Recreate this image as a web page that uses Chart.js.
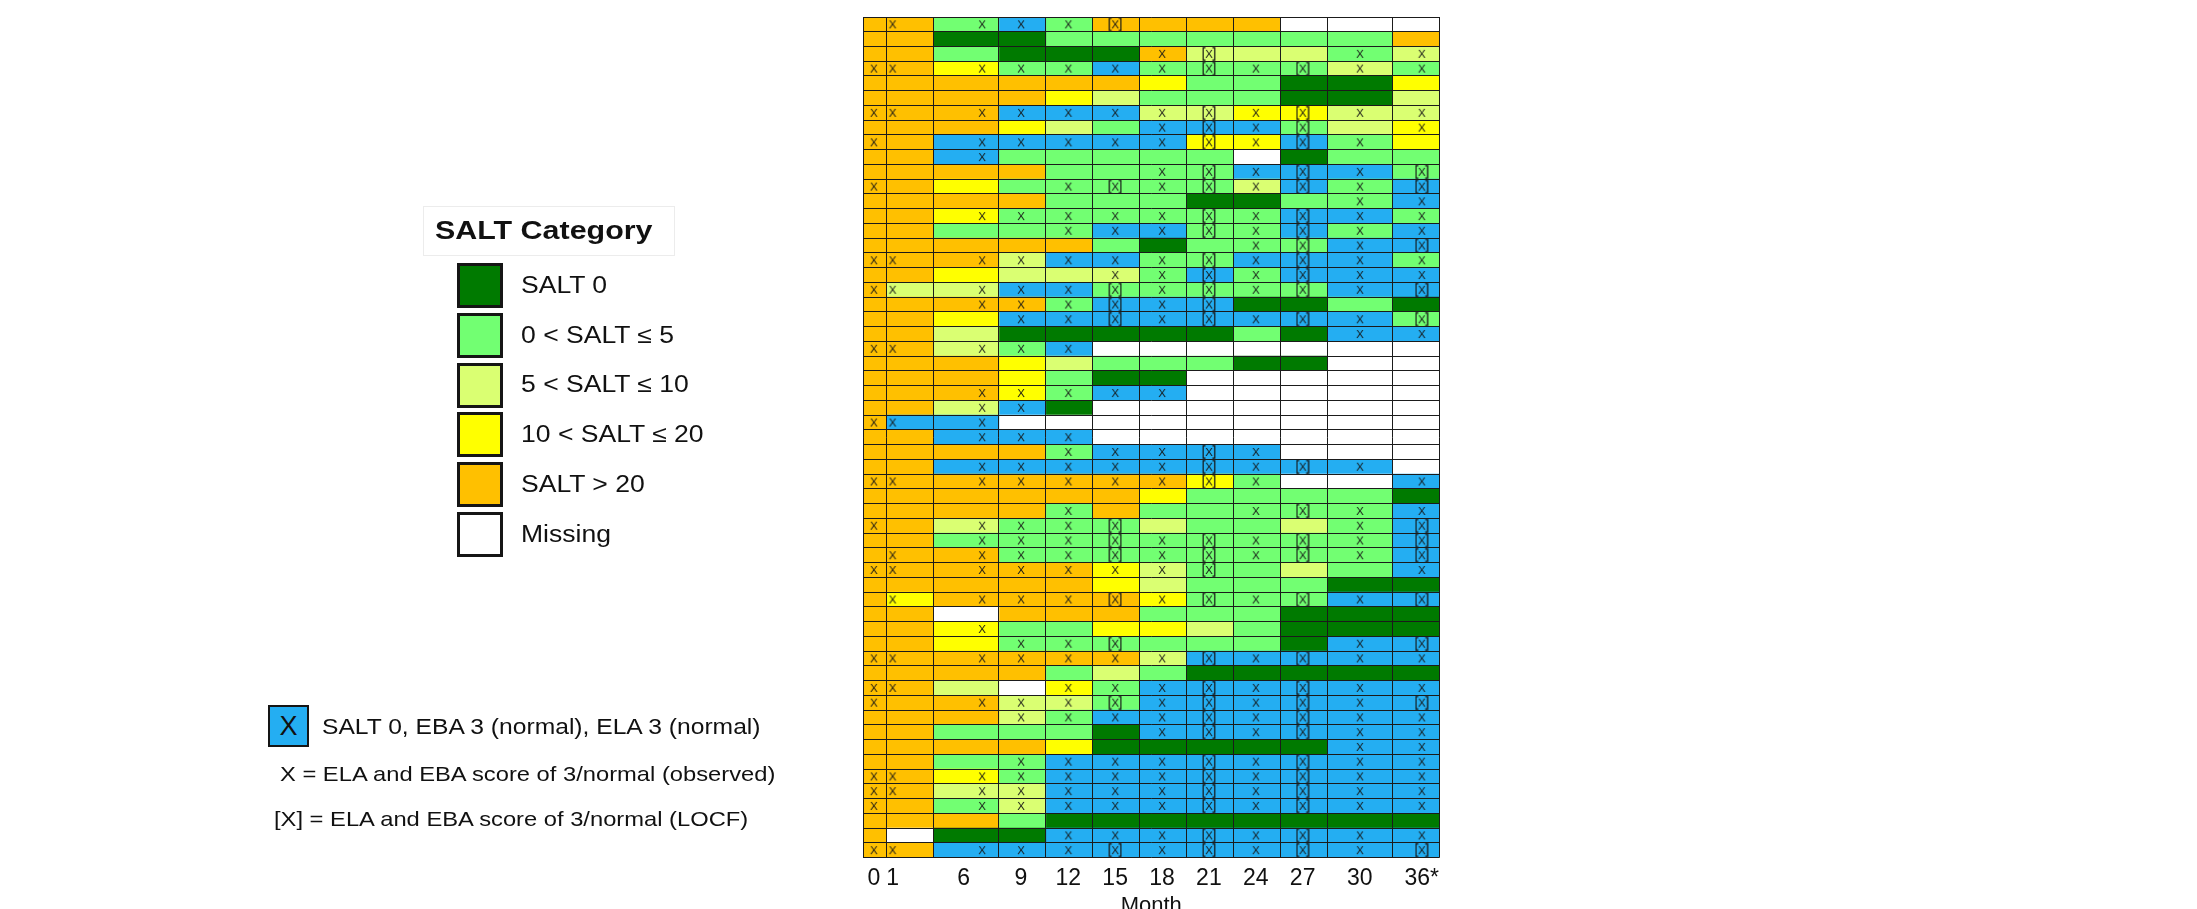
<!DOCTYPE html>
<html><head><meta charset="utf-8">
<script src="https://cdn.jsdelivr.net/npm/chart.js@4.4.1/dist/chart.umd.min.js"></script>
<style>
html,body{margin:0;padding:0;background:#fff;overflow:hidden;}
#wrap{position:relative;width:2197px;height:909px;overflow:hidden;font-family:"Liberation Sans",Arial,sans-serif;color:#111;}
#c{position:absolute;left:0;top:0;}
.txt{position:absolute;white-space:nowrap;line-height:1;transform:scaleX(1.13);transform-origin:0 50%;}
.sq{position:absolute;box-sizing:border-box;border:3px solid #151515;}
</style></head><body>
<div id="wrap">
<canvas id="c" width="2197" height="940" style="width:2197px;height:940px"></canvas>
</div>
<script>
// ---------- data ----------
const months = ['0','1','6','9','12','15','18','21','24','27','30','36*'];
const patients = ['P01','P02','P03','P04','P05','P06','P07','P08','P09','P10','P11','P12','P13','P14','P15','P16','P17','P18','P19','P20',
'P21','P22','P23','P24','P25','P26','P27','P28','P29','P30','P31','P32','P33','P34','P35','P36','P37','P38','P39','P40',
'P41','P42','P43','P44','P45','P46','P47','P48','P49','P50','P51','P52','P53','P54','P55','P56','P57'];
// SALT category per patient per month: D=SALT 0, G=0<SALT<=5, P=5<SALT<=10, Y=10<SALT<=20, O=SALT>20, W=missing, B=SALT 0 + EBA 3 + ELA 3
const saltCategory = [
"OOGBGOOOOWWW","OODDGGGGGGGO","OOGDDDOPPPGP","OOYGGBGGGGPG","OOOOOOYGGDDY","OOOOYPGGGDDP",
"OOOBBBPPYYPP","OOOYPGBBBGPY","OOBBBBBYYBGY","OOBGGGGGWDGG","OOOOGGGGBBBG","OOYGGGGGPBGB",
"OOOOGGGDDGGB","OOYGGGGGGBBG","OOGGGBBGGBGB","OOOOOGDGGGBB","OOOPBBGGBBBG","OOYPPPGBGBBB",
"OPPBBGGGGGBB","OOOOGBBBDDGD","OOYBBBBBBBBG","OOPDDDDDGDBB","OOPGBWWWWWWW","OOOYPGGGDDWW",
"OOOYGDDWWWWW","OOOYGBBWWWWW","OOPBDWWWWWWW","OBBWWWWWWWWW","OOBBBWWWWWWW","OOOOGBBBBWWW",
"OOBBBBBBBBBW","OOOOOOOYGWWB","OOOOOOYGGGGD","OOOOGOGGGGGB","OOPGGGPGGPGB","OOGGGGGGGGGB",
"OOOGGGGGGGGB","OOOOOYPGGPGB","OOOOOYPGGGDD","OYOOOOYGGGBB","OOWOOOGGGDDD","OOYGGYYPGDDD",
"OOYGGGGGGDBB","OOOOOOPBBBBB","OOOOGPGDDDDD","OOPWYGBBBBBB","OOOPPGBBBBBB","OOOPGBBBBBBB",
"OOGGGDBBBBBB","OOOOYDDDDDBB","OOGGBBBBBBBB","OOYGBBBBBBBB","OOPPBBBBBBBB","OOGPBBBBBBBB",
"OOOGDDDDDDDD","OWDDBBBBBBBB","OOBBBBBBBBBB"];
// ELA/EBA normal marks: x = observed, L = LOCF, . = none
const normalMarks = [
".xxxxL......","............","......xL..xx","xxxxxxxLxLxx","............","............",
"xxxxxxxLxLxx","......xLxL.x","x.xxxxxLxLx.","..x.........","......xLxLxL","x...xLxLxLxL",
"..........xx","..xxxxxLxLxx","....xxxLxLxx","........xLxL","xxxxxxxLxLxx",".....xxLxLxx",
"xxxxxLxLxLxL","..xxxLxL....","...xxLxLxLxL","..........xx","xxxxx.......","............",
"............","..xxxxx.....","..xx........","xxx.........","..xxx.......","....xxxLx...",
"..xxxxxLxLx.","xxxxxxxLx..x","............","....x...xLxx","x.xxxL....xL","..xxxLxLxLxL",
".xxxxLxLxLxL","xxxxxxxL...x","............",".xxxxLxLxLxL","............","..x.........",
"...xxL....xL","xxxxxxxLxLxx","............","xx..xxxLxLxx","x.xxxLxLxLxL","...xxxxLxLxx",
"......xLxLxx","..........xx","...xxxxLxLxx","xxxxxxxLxLxx","xxxxxxxLxLxx","x.xxxxxLxLxx",
"............","....xxxLxLxx","xxxxxLxLxLxL"];
const legendNames = ['SALT 0','0 < SALT \u2264 5','5 < SALT \u2264 10','10 < SALT \u2264 20','SALT > 20','Missing'];
const legendCodes = ['D','G','P','Y','O','W'];
const noteLines = ['SALT 0, EBA 3 (normal), ELA 3 (normal)','X = ELA and EBA score of 3/normal (observed)','[X] = ELA and EBA score of 3/normal (LOCF)'];

// ---------- layout / style ----------
const colEdges = [0,0.5,1.5,2.9,3.9,4.9,5.9,6.9,7.9,8.9,9.9,11.3,12.3];
const tickPos  = [0.23,0.63,2.15,3.37,4.38,5.38,6.38,7.38,8.38,9.38,10.6,11.92];
const markPos  = [0.23,0.63,2.54,3.37,4.38,5.38,6.38,7.38,8.38,9.38,10.6,11.92];
const palette = {D:'#007a00',G:'#72ff72',P:'#daff72',Y:'#ffff00',O:'#ffc000',W:'#ffffff',B:'#24aef2'};
const FONT = '"Liberation Sans", Arial, sans-serif';
Chart.defaults.font.family = FONT;
Chart.defaults.color = '#111';

function makeMark(bracket){
  const w = bracket ? 14 : 12, h = bracket ? 14 : 12;
  const cv = document.createElement('canvas'); cv.width = w; cv.height = h;
  const g = cv.getContext('2d');
  g.fillStyle = '#161616'; g.font = '11.5px ' + FONT; g.textAlign = 'center'; g.textBaseline = 'middle';
  g.fillText('X', w/2, h/2 + 0.5);
  if (bracket){
    g.strokeStyle = '#161616'; g.lineWidth = 1.2; g.beginPath();
    g.moveTo(3.5,0.8); g.lineTo(1.2,0.8); g.lineTo(1.2,13.2); g.lineTo(3.5,13.2);
    g.moveTo(10.5,0.8); g.lineTo(12.8,0.8); g.lineTo(12.8,13.2); g.lineTo(10.5,13.2);
    g.stroke();
  }
  return cv;
}
const imgObs = makeMark(false), imgLocf = makeMark(true);

const barSets = months.map((m, c) => ({
  type:'bar', label:'Month ' + m, indexAxis:'y', xAxisID:'x', yAxisID:'y', grouped:false,
  barPercentage:1, categoryPercentage:1, borderWidth:0, order:2,
  data: patients.map(() => [colEdges[c], colEdges[c+1]]),
  backgroundColor: saltCategory.map(r => palette[r[c]])
}));
const obsPts = [], locfPts = [];
normalMarks.forEach((row, r) => {
  for (let c = 0; c < row.length; c++){
    if (row[c] === 'x') obsPts.push({x: markPos[c], y: patients[r]});
    else if (row[c] === 'L') locfPts.push({x: markPos[c], y: patients[r]});
  }
});
const markSets = [
  {type:'scatter', label:'X observed', data:obsPts, xAxisID:'x', yAxisID:'y', pointStyle:imgObs, pointRadius:5, order:0},
  {type:'scatter', label:'[X] LOCF', data:locfPts, xAxisID:'x', yAxisID:'y', pointStyle:imgLocf, pointRadius:5, order:0}
];

const lineCol = '#1b1b1b';
new Chart(document.getElementById('c'), {
  type:'bar',
  data:{labels:patients, datasets:[...barSets, ...markSets]},
  options:{
    responsive:false, animation:false, events:[],
    layout:{padding:{left:863, right:757.5, top:17, bottom:20.5}},
    plugins:{legend:{display:false}, tooltip:{enabled:false}},
    scales:{
      x:{type:'linear', position:'bottom', min:0, max:12.3, offset:false,
         afterBuildTicks: s => { s.ticks = tickPos.map(v => ({value:v})); },
         afterFit: s => { s.height = 62; },
         ticks:{autoSkip:false, maxRotation:0, padding:7, color:'#111', font:{size:23}, callback:(v,i) => months[i]},
         grid:{display:false, drawTicks:false, offset:false}, border:{display:false},
         title:{display:true, text:'Month', color:'#111', font:{size:22}, padding:{top:0,bottom:0}}},
      xg:{type:'linear', position:'top', min:0, max:12.3, offset:false,
         afterBuildTicks: s => { s.ticks = colEdges.map(v => ({value:v})); },
         afterFit: s => { s.height = 0; },
         ticks:{display:false}, grid:{color:lineCol, lineWidth:1, drawTicks:false, offset:false, z:1}, border:{display:false}},
      y:{type:'category', labels:patients, position:'left', offset:true,
         afterFit: s => { s.width = 0; },
         ticks:{display:false}, grid:{offset:true, color:lineCol, lineWidth:1, drawTicks:false, z:1},
         border:{display:true, color:lineCol, z:1}}
    }
  }
});

// ---------- legends (HTML text) ----------
const wrap = document.getElementById('wrap');
function add(html){ wrap.insertAdjacentHTML('beforeend', html); }
add('<div style="position:absolute;left:423px;top:206px;width:252px;height:50px;border:1px solid #ececec;box-sizing:border-box"></div>');
add('<div class="txt" style="left:435px;top:217px;font-size:26px;font-weight:bold;transform:scaleX(1.17)">SALT Category</div>');
legendNames.forEach((name, i) => {
  const top = 263 + i * 49.8;
  add('<div class="sq" style="left:457px;top:' + top + 'px;width:46px;height:45px;background:' + palette[legendCodes[i]] + '"></div>');
  add('<div class="txt" style="left:521px;top:' + (top + 22.5 - 11.75) + 'px;font-size:23.5px">' + name + '</div>');
});
add('<div class="sq" style="left:268px;top:705px;width:41px;height:42px;border-width:2px;background:' + palette.B + ';font-size:27px;line-height:38px;text-align:center;color:#111">X</div>');
add('<div class="txt" style="left:322px;top:716px;font-size:21.8px">' + noteLines[0] + '</div>');
add('<div class="txt" style="left:280px;top:762.5px;font-size:21px">' + noteLines[1] + '</div>');
add('<div class="txt" style="left:274px;top:807.5px;font-size:21px">' + noteLines[2] + '</div>');
</script>
</body></html>
